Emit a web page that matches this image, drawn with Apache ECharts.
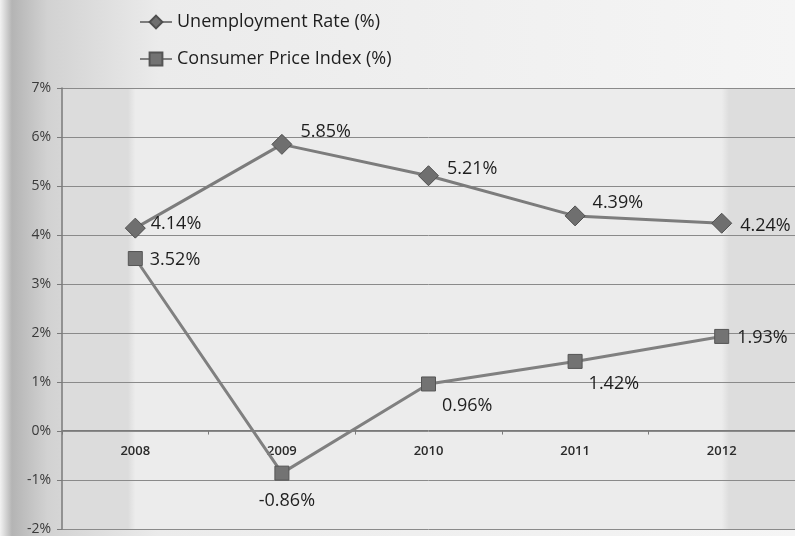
<!DOCTYPE html>
<html>
<head>
<meta charset="utf-8">
<script src="https://cdn.jsdelivr.net/npm/echarts@6/dist/echarts.min.js"></script>
<style>
  html, body { margin: 0; padding: 0; }
  #chart { width: 795px; height: 536px; }
</style>
</head>
<body>
<div id="chart"></div>
<script>
// Years on the category axis
const years = ['2008', '2009', '2010', '2011', '2012'];
// Annual rates in percent
const unemploymentRate = [4.14, 5.85, 5.21, 4.39, 4.24];
const consumerPriceIndex = [3.52, -0.86, 0.96, 1.42, 1.93];
// Value axis range
const yMin = -2, yMax = 7, yStep = 1;

// Where each value label sits relative to its marker
const unemploymentLabelPlace = [
  { position: 'right', offset: [0, -4] },
  { position: 'right', offset: [3, -12] },
  { position: 'right', offset: [3, -7] },
  { position: 'right', offset: [2, -13] },
  { position: 'right', offset: [3, 3] }
];
const cpiLabelPlace = [
  { position: 'right', offset: [2, 1] },
  { position: 'bottom', offset: [5, 6] },
  { position: 'right', offset: [1, 22] },
  { position: 'right', offset: [1, 22] },
  { position: 'right', offset: [3, 1] }
];

const labelFont = { fontFamily: 'Open Sans', fontSize: 18, color: '#1e1e1e' };

function withLabels(values, places) {
  return values.map((v, i) => ({
    value: v,
    label: Object.assign({}, places[i])
  }));
}

const GRID_TOP = 88, GRID_BOTTOM = 5, HEIGHT = 536;
const plotHeight = HEIGHT - GRID_TOP - GRID_BOTTOM;
// lift the category axis up to the 0% line
const zeroLift = plotHeight * (0 - yMin) / (yMax - yMin);

const chart = echarts.init(document.getElementById('chart'));
chart.setOption({
  animation: false,
  backgroundColor: new echarts.graphic.LinearGradient(0, 0, 1, 0, [
    { offset: 0, color: '#f2f2f2' },
    { offset: 0.015, color: '#b4b4b4' },
    { offset: 0.06, color: '#d2d2d2' },
    { offset: 0.2, color: '#ebebeb' },
    { offset: 1, color: '#f5f5f5' }
  ]),
  legend: {
    orient: 'vertical',
    left: 134,
    top: 8,
    itemGap: 19,
    itemWidth: 32,
    itemHeight: 16,
    textStyle: { fontFamily: 'Open Sans', fontSize: 18, color: '#1e1e1e' },
    data: ['Unemployment Rate (%)', 'Consumer Price Index (%)']
  },
  grid: {
    left: 62,
    right: -2,
    top: GRID_TOP,
    bottom: GRID_BOTTOM,
    show: true,
    borderWidth: 0,
    backgroundColor: new echarts.graphic.LinearGradient(0, 0, 1, 0, [
      { offset: 0, color: '#dcdcdc' },
      { offset: 0.09, color: '#dcdcdc' },
      { offset: 0.1, color: '#ececec' },
      { offset: 0.9, color: '#ececec' },
      { offset: 0.91, color: '#dddddd' },
      { offset: 1, color: '#dddddd' }
    ])
  },
  xAxis: {
    type: 'category',
    data: years,
    boundaryGap: true,
    offset: -zeroLift,
    axisLine: { onZero: false, lineStyle: { color: '#7a7a7a', width: 1 } },
    axisTick: { show: true, length: 4, lineStyle: { color: '#7a7a7a' } },
    axisLabel: {
      margin: 14,
      fontFamily: 'Open Sans',
      fontSize: 13,
      fontWeight: 600,
      color: '#2a2a2a'
    }
  },
  yAxis: {
    type: 'value',
    min: yMin,
    max: yMax,
    interval: yStep,
    axisLine: { show: true, lineStyle: { color: '#7a7a7a', width: 1.5 } },
    axisTick: { show: true, length: 5, lineStyle: { color: '#7a7a7a' } },
    axisLabel: {
      formatter: '{value}%',
      margin: 11,
      fontFamily: 'Open Sans',
      fontSize: 14,
      color: '#3a3a3a'
    },
    splitLine: { show: true, lineStyle: { color: '#8a8a8a', width: 1 } }
  },
  series: [
    {
      name: 'Unemployment Rate (%)',
      type: 'line',
      data: withLabels(unemploymentRate, unemploymentLabelPlace),
      symbol: 'diamond',
      symbolSize: 20,
      lineStyle: { color: '#7c7c7c', width: 3 },
      itemStyle: { color: '#6f6f6f', borderColor: '#4f4f4f', borderWidth: 1 },
      label: Object.assign({ show: true, formatter: p => p.value.toFixed(2) + '%' }, labelFont),
      z: 3
    },
    {
      name: 'Consumer Price Index (%)',
      type: 'line',
      data: withLabels(consumerPriceIndex, cpiLabelPlace),
      symbol: 'rect',
      symbolSize: 14,
      lineStyle: { color: '#808080', width: 3 },
      itemStyle: { color: '#737373', borderColor: '#555555', borderWidth: 1 },
      label: Object.assign({ show: true, formatter: p => p.value.toFixed(2) + '%' }, labelFont),
      z: 3
    }
  ]
});
</script>
</body>
</html>
